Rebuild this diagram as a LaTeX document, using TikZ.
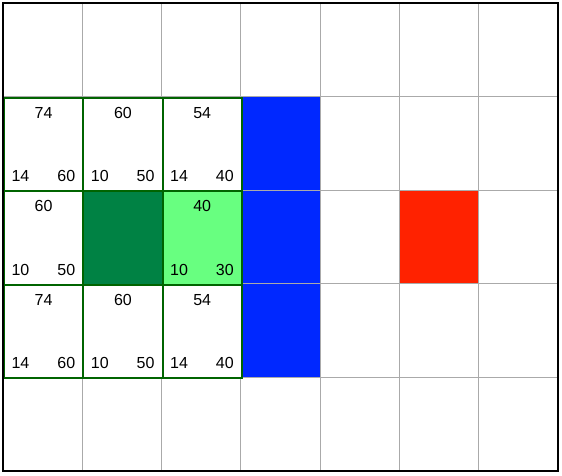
\documentclass[tikz,border=0pt]{standalone}
\usepackage{fontspec}
\setmainfont{Liberation Sans}
\usepackage{tikz}
\definecolor{wallblue}{RGB}{0,40,255}
\definecolor{goalred}{RGB}{255,34,0}
\definecolor{startgreen}{RGB}{0,130,68}
\definecolor{opengreen}{RGB}{104,255,128}
\definecolor{edgegreen}{RGB}{0,100,0}
\definecolor{gridgray}{RGB}{170,170,170}

\begin{document}
\begin{tikzpicture}[x=79.3pt,y=-93.6pt,
    cellbox/.style={draw=edgegreen,line width=2pt,minimum width=79.3pt,minimum height=93.6pt,anchor=north west,inner sep=0pt},
    score/.style={font=\fontsize{16}{19}\selectfont,inner sep=0pt}]
            \useasboundingbox ([shift={(-3pt,3pt)}]0,0) rectangle ([shift={(4pt,-5pt)}]7,5);
            % walls and goal
            \fill[wallblue] (3,1) rectangle (4,4);
            \fill[goalred] (5,2) rectangle (6,3);
            \foreach \x in {1,...,6} \draw[gridgray,line width=1pt] (\x,0) -- (\x,5);
            \foreach \y in {1,...,4} \draw[gridgray,line width=1pt] (0,\y) -- (7,\y);
            % start cell
            \node[cellbox,fill=startgreen] (c12) at (1,2) {};
            % scored cells: column/row/f/g/h/fill
            \foreach \c/\r/\f/\g/\h/\bg in {0/1/74/14/60/white, 1/1/60/10/50/white, 2/1/54/14/40/white,
                                        0/2/60/10/50/white, 2/2/40/10/30/opengreen,
                                        0/3/74/14/60/white, 1/3/60/10/50/white, 2/3/54/14/40/white}{
                \node[cellbox,fill=\bg] (c\c\r) at (\c,\r) {};
                \node[score] (f\c\r) at ([yshift=-16pt]c\c\r.north) {\f};
                \node[score] (g\c\r) at ([shift={(17.5pt,16pt)}]c\c\r.south west) {\g};
                \node[score] (h\c\r) at ([shift={(-18pt,16pt)}]c\c\r.south east) {\h};
            }
            \draw[line width=1.2pt] (0,0) rectangle (7,5);
        \end{tikzpicture}
\end{document}
